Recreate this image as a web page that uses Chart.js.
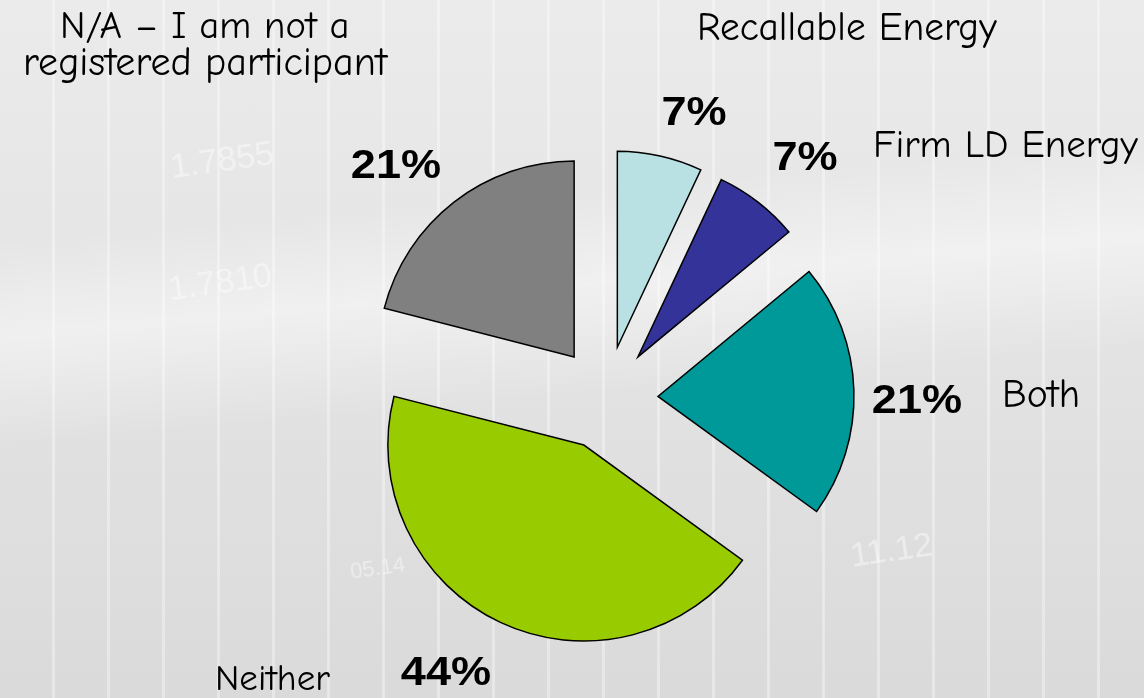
<!DOCTYPE html>
<html>
<head>
<meta charset="utf-8">
<script src="https://cdn.jsdelivr.net/npm/chart.js@4.4.1/dist/chart.umd.min.js"></script>
<style>
  html, body { margin: 0; padding: 0; }
  body {
    width: 1144px; height: 698px; overflow: hidden; position: relative;
    background:
      repeating-linear-gradient(90deg, rgba(255,255,255,0) 0 52px, rgba(255,255,255,.35) 52px 55px),
      linear-gradient(175deg, rgba(255,255,255,0) 30%, rgba(255,255,255,.45) 42%, rgba(255,255,255,0) 56%),
      linear-gradient(180deg, #ebebeb 0%, #e4e4e4 45%, #dadada 100%);
  }
  .bgnum { position: absolute; color: rgba(255,255,255,.45); font: 34px "Liberation Sans", Arial, sans-serif; transform: rotate(-8deg); }
  #wrap { position: absolute; left: 0; top: 0; width: 1144px; height: 698px; }
</style>
</head>
<body>
<div class="bgnum" style="left:170px;top:140px">1.7855</div>
<div class="bgnum" style="left:168px;top:262px">1.7810</div>
<div class="bgnum" style="left:850px;top:530px">11.12</div>
<div class="bgnum" style="left:350px;top:555px;font-size:22px">05.14</div>
<div id="wrap"><canvas id="pie"></canvas></div>
<script>
// slices clockwise from 12 o'clock
const categories = ['Recallable Energy', 'Firm LD Energy', 'Both', 'Neither', 'N/A \u2013 I am not a registered participant'];
const values = [7, 7, 21, 44, 21];
const colors = ['#b9e1e4', '#333399', '#009999', '#99cc00', '#808080'];

const EXPLODE = 52;

// manually placed slide labels: [text, left x, baseline y, width]
const nameLabels = [
  ['N/A \u2013 I am not a', 60, 38, 290],
  ['registered participant', 23, 75, 369],
  ['Recallable Energy', 697, 40, 300],
  ['Firm LD Energy', 873, 157, 265],
  ['Both', 1002, 407, 78],
  ['Neither', 215, 690, 115]
];
const pctPos = [[694, 125], [805, 170], [917, 413], [446, 685], [396, 178]];

const explode = {
  id: 'explode',
  beforeDatasetsDraw(chart) {
    chart.getDatasetMeta(0).data.forEach(a => {
      const mid = (a.startAngle + a.endAngle) / 2;
      a.x += Math.cos(mid) * EXPLODE;
      a.y += Math.sin(mid) * EXPLODE;
    });
  },
  afterDatasetsDraw(chart) {
    chart.getDatasetMeta(0).data.forEach(a => {
      const mid = (a.startAngle + a.endAngle) / 2;
      a.x -= Math.cos(mid) * EXPLODE;
      a.y -= Math.sin(mid) * EXPLODE;
    });
  }
};

const FACE = '"Comic Sans MS", "Comic Neue", "DejaVu Sans", sans-serif';

const labels = {
  id: 'labels',
  afterDraw(chart) {
    const ctx = chart.ctx;
    ctx.save();
    ctx.fillStyle = '#000';
    ctx.textBaseline = 'alphabetic';
    ctx.textAlign = 'left';
    nameLabels.forEach(([t, x, y, w]) => {
      ctx.font = '30px ' + FACE;
      const size = Math.min(40, 30 * w / ctx.measureText(t).width);
      ctx.font = size.toFixed(1) + 'px ' + FACE;
      ctx.fillText(t, x, y);
    });
    ctx.font = 'bold 41px "Liberation Sans", Arial, sans-serif';
    ctx.textAlign = 'center';
    values.forEach((v, i) => {
      ctx.save();
      ctx.translate(pctPos[i][0], pctPos[i][1]);
      ctx.scale(1.1, 1);
      ctx.fillText(v + '%', 0, 0);
      ctx.restore();
    });
    ctx.restore();
  }
};

new Chart(document.getElementById('pie'), {
  type: 'pie',
  data: {
    labels: categories,
    datasets: [{
      data: values,
      backgroundColor: colors,
      borderColor: '#000',
      borderWidth: 1.5,
      borderJoinStyle: 'miter',
      radius: 196
    }]
  },
  options: {
    responsive: true,
    maintainAspectRatio: false,
    animation: false,
    events: [],
    radius: 196,
    layout: { padding: { left: 68, top: 98, right: 0, bottom: 0 } },
    plugins: { legend: { display: false }, tooltip: { enabled: false } }
  },
  plugins: [explode, labels]
});
</script>
</body>
</html>
